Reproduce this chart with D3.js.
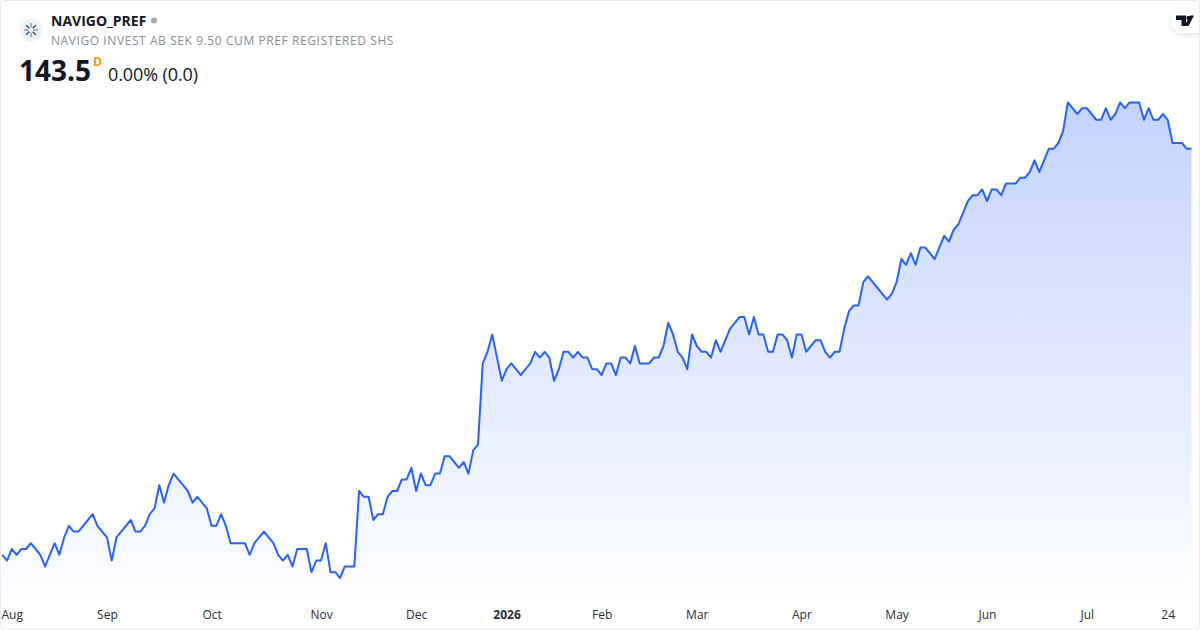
<!DOCTYPE html>
<html>
<head>
<meta charset="utf-8">
<script src="https://cdn.jsdelivr.net/npm/d3@7"></script>
<style>
  html, body { margin: 0; padding: 0; background: #fff; }
  svg { display: block; }
  text { font-family: "Open Sans", "Noto Sans", sans-serif; }
</style>
</head>
<body>
<div id="chart"></div>
<script>
// daily closes (price moves in 0.25 steps)
const closes = [
  126,125.75,126.25,126,126.25,126.25,126.5,126.25,126,125.5,126,126.5,126,126.75,127.25,127,127,127.25,127.5,127.75,127.25,127,126.75,125.75,
  126.75,127,127.25,127.5,127,127,127.25,127.75,128,129,128.25,129,129.5,129.25,129,128.75,128.25,128.5,128.25,128,127.25,127.25,127.75,127.25,
  126.5,126.5,126.5,126.5,126,126.5,126.75,127,126.75,126.5,126,125.75,126,125.5,126.25,126.25,126.25,125.25,125.75,125.75,126.5,125.25,125.25,125,
  125.5,125.5,125.5,128.75,128.5,128.5,127.5,127.75,127.75,128.5,128.75,128.75,
  129.25,129.25,129.75,128.75,129.5,129,129,129.5,129.5,130.25,130.25,130,129.75,130,129.5,130.5,130.75,134.25,134.75,135.5,134.5,133.5,134,134.25,
  134,133.75,134,134.25,134.75,134.5,134.75,134.5,133.5,134,134.75,134.75,134.5,134.75,134.5,134.5,134,134,133.75,134.25,134.25,133.75,134.5,134.5,
  134.25,135,134.25,134.25,134.25,134.5,134.5,135,136,135.5,134.75,134.5,134,135.5,135,134.75,134.75,134.5,135.25,134.75,135.25,135.75,136,136.25,
  136.25,135.5,136.25,135.5,135.5,134.75,134.75,135.5,135.5,135.25,134.5,135.5,135.5,134.75,135,135.25,135.25,134.75,134.5,134.75,134.75,135.75,136.5,
  136.75,136.75,137.75,138,137.75,137.5,137.25,137,137.25,137.75,138.75,138.5,139,138.5,139.25,139.25,139,138.75,139.25,139.75,139.5,140,140.25,140.75,
  141.25,141.5,141.5,141.75,141.25,141.75,141.75,141.5,142,142,142,142.25,142.25,142.5,143,142.5,143,143.5,143.5,143.75,144.25,145.5,145.25,145,
  145.25,145.25,145,144.75,144.75,145.25,144.75,145,145.5,145.25,145.5,145.5,145.5,144.75,145.25,144.75,144.75,145,144.75,143.75,143.75,143.75,143.5,143.5
];

// bar index of each time axis label
const tickIndex = [0, 22, 44, 67, 87, 106, 126, 146, 168, 188, 207, 228, 245];
const tickLabels = ["Aug", "Sep", "Oct", "Nov", "Dec", "2026", "Feb", "Mar", "Apr", "May", "Jun", "Jul", "24"];

const width = 1200;
const height = 630;
const plotBottom = 602;

const svg = d3.select("#chart")
  .append("svg")
  .attr("width", width)
  .attr("height", height);

const x = d3.scaleLinear()
  .domain([0, closes.length - 1])
  .range([2.3, 1191.5]);

const y = d3.scaleLinear()
  .domain([125, 145.5])
  .range([578, 102.4]);

// fill under the line
const defs = svg.append("defs");
const grad = defs.append("linearGradient")
  .attr("id", "fill")
  .attr("gradientUnits", "userSpaceOnUse")
  .attr("x1", 0).attr("x2", 0)
  .attr("y1", y(145.5)).attr("y2", plotBottom);
grad.append("stop").attr("offset", 0).attr("stop-color", "#2962ff").attr("stop-opacity", 0.28);
grad.append("stop").attr("offset", 1).attr("stop-color", "#2962ff").attr("stop-opacity", 0.01);

const area = d3.area()
  .x((d, i) => x(i))
  .y0(plotBottom)
  .y1(d => y(d));

const line = d3.line()
  .x((d, i) => x(i))
  .y(d => y(d));

svg.append("path")
  .datum(closes)
  .attr("d", area)
  .attr("fill", "url(#fill)");

svg.append("path")
  .datum(closes)
  .attr("d", line)
  .attr("fill", "none")
  .attr("stroke", "#2962ff")
  .attr("stroke-width", 2)
  .attr("stroke-linejoin", "round");

// time axis
const axis = d3.axisBottom(x)
  .tickValues(tickIndex)
  .tickFormat((d, i) => tickLabels[i])
  .tickSize(0)
  .tickPadding(0);

const axisG = svg.append("g")
  .attr("transform", "translate(0,610)")
  .call(axis);
axisG.select(".domain").remove();
axisG.selectAll("text")
  .style("font-family", '"Open Sans", sans-serif')
  .attr("font-size", 12)
  .attr("fill", "#2a2e39")
  .attr("font-weight", (d, i) => tickLabels[i] === "2026" ? 700 : 400)
  .attr("text-anchor", (d, i) => i === 0 ? "start" : "middle")
  .attr("dx", (d, i) => i === 0 ? -1.3 : 0)
  .attr("dy", "0.71em");

// header
svg.append("circle").attr("cx", 31).attr("cy", 30).attr("r", 11.5).attr("fill", "#f0f3fa");
const spokes = d3.range(8).map(i => i * Math.PI / 4);
svg.append("g").selectAll("line")
  .data(spokes)
  .enter().append("line")
  .attr("x1", d => 31 + 2.5 * Math.cos(d))
  .attr("y1", d => 30 + 2.5 * Math.sin(d))
  .attr("x2", d => 31 + 7 * Math.cos(d))
  .attr("y2", d => 30 + 7 * Math.sin(d))
  .attr("stroke", (d, i) => i % 2 ? "#24324f" : "#5b85c9")
  .attr("stroke-width", 1.2);

svg.append("text").attr("x", 51).attr("y", 26)
  .attr("font-size", 14).attr("font-weight", 700).attr("fill", "#131722")
  .text("NAVIGO_PREF");
svg.append("circle").attr("cx", 154).attr("cy", 20.5).attr("r", 3).attr("fill", "#a3a6af");
svg.append("text").attr("x", 51).attr("y", 45)
  .attr("font-size", 12).attr("fill", "#8a8d96").attr("letter-spacing", 0.58)
  .text("NAVIGO INVEST AB SEK 9.50 CUM PREF REGISTERED SHS");
svg.append("text").attr("x", 19).attr("y", 81)
  .attr("font-size", 28).attr("font-weight", 700).attr("fill", "#131722")
  .text("143.5");
svg.append("text").attr("x", 93).attr("y", 66)
  .attr("font-size", 12).attr("font-weight", 700).attr("fill", "#ff9800")
  .text("D");
svg.append("text").attr("x", 108).attr("y", 81)
  .attr("font-size", 18).attr("fill", "#131722").attr("letter-spacing", -0.1)
  .text("0.00% (0.0)");

// logo pill, top right
defs.append("filter").attr("id", "soft").attr("x", "-50%").attr("y", "-50%").attr("width", "200%").attr("height", "200%")
  .append("feDropShadow").attr("dx", 0).attr("dy", 2).attr("stdDeviation", 3).attr("flood-color", "#000").attr("flood-opacity", 0.12);
svg.append("rect").attr("x", 1171).attr("y", 9).attr("width", 50).attr("height", 24).attr("rx", 12)
  .attr("fill", "#fff").attr("filter", "url(#soft)");
const logo = svg.append("g").attr("fill", "#131722");
logo.append("path").attr("d", "M1176 15.5H1186V26H1181.5V20H1176Z");
logo.append("circle").attr("cx", 1188.5).attr("cy", 18).attr("r", 2.2);
logo.append("path").attr("d", "M1190 15.5H1194L1188.5 26H1184.5Z");

// chart frame
svg.append("rect").attr("x", 0.5).attr("y", 0.5).attr("width", 1199).attr("height", 629).attr("rx", 3)
  .attr("fill", "none").attr("stroke", "#e9ebef");
</script>
</body>
</html>
